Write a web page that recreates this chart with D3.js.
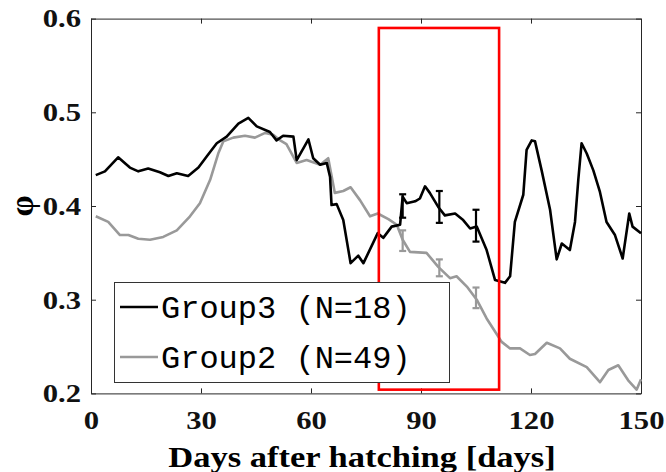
<!DOCTYPE html>
<html>
<head>
  <meta charset="utf-8" />
  <script src="https://cdn.jsdelivr.net/npm/d3@7"></script>
  <style>
    body { margin: 0; background: #fff; }
    svg { display: block; }
    .axis path, .axis line { stroke: #262626; stroke-width: 1; }
    .axis text { font-family: "Liberation Serif", "Times New Roman", serif; font-weight: bold; font-size: 26px; fill: #111; }
    .legend text { font-family: "Liberation Mono", "Courier New", monospace; font-size: 32px; fill: #000; }
  </style>
</head>
<body>
  <svg id="chart" width="666" height="472"></svg>
  <script>
  // Group3 (black)
  var g3Days = [1.3, 3.8, 7.4, 10.6, 12.9, 15.6, 18.8, 21.1, 23.4, 26.5, 29.3, 31.6, 34.3, 37.0, 40.2, 42.9,
                45.2, 48.8, 50.6, 52.4, 55.2, 56.1, 59.3, 60.6, 62.5, 64.3, 65.2, 65.6, 67.0, 68.8, 70.8, 72.9,
                74.3, 78.2, 79.7, 82.0, 84.3, 85.0, 86.1, 88.4, 89.7, 91.1, 92.4, 94.7, 96.5, 99.3, 101.5, 103.4,
                105.2, 107.9, 110.2, 112.9, 114.3, 115.6, 117.9, 118.8, 120.2, 121.1, 122.9, 125.2, 127.0, 128.4,
                130.6, 132.0, 132.9, 133.8, 135.2, 137.0, 138.8, 140.6, 142.9, 145.0, 146.8, 147.7, 150];
  var g3Vals = [0.433, 0.437, 0.452, 0.441, 0.437, 0.440, 0.436, 0.432, 0.435, 0.432, 0.441, 0.453, 0.467, 0.474, 0.488, 0.494,
                0.485, 0.479, 0.470, 0.475, 0.474, 0.449, 0.471, 0.451, 0.444, 0.446, 0.431, 0.401, 0.402, 0.385, 0.339, 0.347,
                0.339, 0.371, 0.366, 0.378, 0.380, 0.410, 0.403, 0.405, 0.408, 0.421, 0.414, 0.399, 0.390, 0.392, 0.385, 0.376,
                0.378, 0.353, 0.321, 0.318, 0.325, 0.383, 0.412, 0.460, 0.470, 0.469, 0.438, 0.396, 0.343, 0.360,
                0.353, 0.383, 0.428, 0.467, 0.456, 0.438, 0.415, 0.383, 0.369, 0.344, 0.392, 0.378, 0.371];

  // Group2 (gray)
  var g2Days = [1.3, 4.7, 7.9, 10.2, 12.9, 16.1, 19.7, 23.4, 27.0, 29.7, 32.5, 34.7, 36.1, 38.8, 42.0, 44.7,
                47.5, 49.7, 51.6, 53.3, 56.1, 58.8, 62.5, 64.7, 66.5, 68.8, 70.8, 73.4, 76.1, 78.2, 81.1, 83.4,
                85.0, 87.0, 91.5, 94.7, 97.9, 99.7, 102.5, 105.2, 107.9, 109.7, 112.0, 114.3, 117.0, 119.7, 121.1,
                124.3, 127.9, 130.6, 135.2, 138.8, 141.1, 143.8, 146.5, 148.8, 150];
  var g2Vals = [0.389, 0.383, 0.369, 0.369, 0.365, 0.364, 0.367, 0.374, 0.389, 0.403, 0.428, 0.456, 0.469, 0.473, 0.475, 0.473,
                0.478, 0.476, 0.470, 0.466, 0.446, 0.449, 0.444, 0.451, 0.414, 0.416, 0.420, 0.406, 0.389, 0.392, 0.386, 0.380,
                0.364, 0.351, 0.350, 0.335, 0.323, 0.325, 0.314, 0.300, 0.280, 0.269, 0.255, 0.248, 0.248, 0.241, 0.242,
                0.254, 0.248, 0.237, 0.228, 0.212, 0.225, 0.230, 0.214, 0.204, 0.215];

  // error bars
  var errDays = [85, 95, 105];
  var g3ErrMid = [0.400, 0.399, 0.379];
  var g3ErrHalf = [0.0125, 0.017, 0.017];
  var g2ErrMid = [0.363, 0.334, 0.302];
  var g2ErrHalf = [0.011, 0.009, 0.011];

  // highlighted window
  var boxDays = [78.5, 111.3];
  var boxVals = [0.204, 0.590];

  var xTicks = [0, 30, 60, 90, 120, 150];
  var yTicks = [0.2, 0.3, 0.4, 0.5, 0.6];
  var legendLabels = ["Group3 (N=18)", "Group2 (N=49)"];
  var black = "#000000", gray = "#999999";

  var svg = d3.select("#chart");
  var margin = {left: 91, right: 25, top: 18.6, bottom: 78.6};
  var W = 666 - margin.left - margin.right, H = 472 - margin.top - margin.bottom;

  var x = d3.scaleLinear().domain([0, 150]).range([0, W]);
  var y = d3.scaleLinear().domain([0.2, 0.6]).range([H, 0]);

  var g = svg.append("g").attr("transform", "translate(" + margin.left + "," + margin.top + ")");

  // stretch text horizontally (the source image is widened)
  function stretch(sel, k) {
    sel.each(function() {
      var w = this.getComputedTextLength();
      d3.select(this).attr("textLength", w * k).attr("lengthAdjust", "spacingAndGlyphs");
    });
  }

  // axes, ticks pointing inward on all four sides
  var gx = g.append("g").attr("class", "axis").attr("transform", "translate(0," + H + ")")
    .call(d3.axisBottom(x).tickValues(xTicks).tickSize(-5).tickSizeOuter(0).tickPadding(17));
  var gy = g.append("g").attr("class", "axis")
    .call(d3.axisLeft(y).tickValues(yTicks).tickSize(-5).tickSizeOuter(0).tickPadding(10).tickFormat(d3.format(".1f")));
  g.append("g").attr("class", "axis")
    .call(d3.axisTop(x).tickValues(xTicks).tickSize(-5).tickSizeOuter(0).tickFormat(""));
  g.append("g").attr("class", "axis").attr("transform", "translate(" + W + ",0)")
    .call(d3.axisRight(y).tickValues(yTicks).tickSize(-5).tickSizeOuter(0).tickFormat(""));
  stretch(gx.selectAll("text"), 1.18);
  stretch(gy.selectAll("text"), 1.18);

  var line = d3.line().x(function(d) { return x(d[0]); }).y(function(d) { return y(d[1]); });

  g.append("path")
    .datum(d3.zip(g2Days, g2Vals))
    .attr("d", line)
    .attr("fill", "none").attr("stroke", gray).attr("stroke-width", 2.6).attr("stroke-linejoin", "round");
  g.append("path")
    .datum(d3.zip(g3Days, g3Vals))
    .attr("d", line)
    .attr("fill", "none").attr("stroke", black).attr("stroke-width", 2.6).attr("stroke-linejoin", "round");

  function errorBars(mids, halves, col) {
    var eb = g.append("g").attr("stroke", col).attr("stroke-width", 2.2);
    errDays.forEach(function(d, i) {
      var lo = y(mids[i] - halves[i]), hi = y(mids[i] + halves[i]), cx = x(d);
      eb.append("line").attr("x1", cx).attr("x2", cx).attr("y1", lo).attr("y2", hi);
      eb.append("line").attr("x1", cx - 3.5).attr("x2", cx + 3.5).attr("y1", lo).attr("y2", lo);
      eb.append("line").attr("x1", cx - 3.5).attr("x2", cx + 3.5).attr("y1", hi).attr("y2", hi);
    });
  }
  errorBars(g2ErrMid, g2ErrHalf, gray);
  errorBars(g3ErrMid, g3ErrHalf, black);

  // legend
  var leg = svg.append("g").attr("class", "legend");
  leg.append("rect").attr("x", 114.5).attr("y", 282.5).attr("width", 335).attr("height", 100)
    .attr("fill", "#fff").attr("stroke", "#333").attr("stroke-width", 1);
  [black, gray].forEach(function(c, i) {
    var ly = 307 + i * 50;
    leg.append("line").attr("x1", 120).attr("x2", 158).attr("y1", ly).attr("y2", ly)
      .attr("stroke", c).attr("stroke-width", 2.6);
    leg.append("text").attr("x", 161).attr("y", ly + 10.5).text(legendLabels[i]);
  });

  // red window
  g.append("rect")
    .attr("x", x(boxDays[0])).attr("y", y(boxVals[1]))
    .attr("width", x(boxDays[1]) - x(boxDays[0])).attr("height", y(boxVals[0]) - y(boxVals[1]))
    .attr("fill", "none").attr("stroke", "#ff0000").attr("stroke-width", 2.6);

  // labels
  var xl = svg.append("text")
    .attr("x", 362).attr("y", 467).attr("text-anchor", "middle")
    .style("font-family", "'Liberation Serif', 'Times New Roman', serif").style("font-weight", "bold").style("font-size", "30px")
    .text("Days after hatching [days]");
  stretch(xl, 1.15);

  svg.append("text")
    .attr("transform", "translate(33,206) rotate(-90)").attr("text-anchor", "middle")
    .style("font-family", "'Liberation Serif', 'Times New Roman', serif").style("font-weight", "bold").style("font-size", "34px")
    .text("φ");
  </script>
</body>
</html>
